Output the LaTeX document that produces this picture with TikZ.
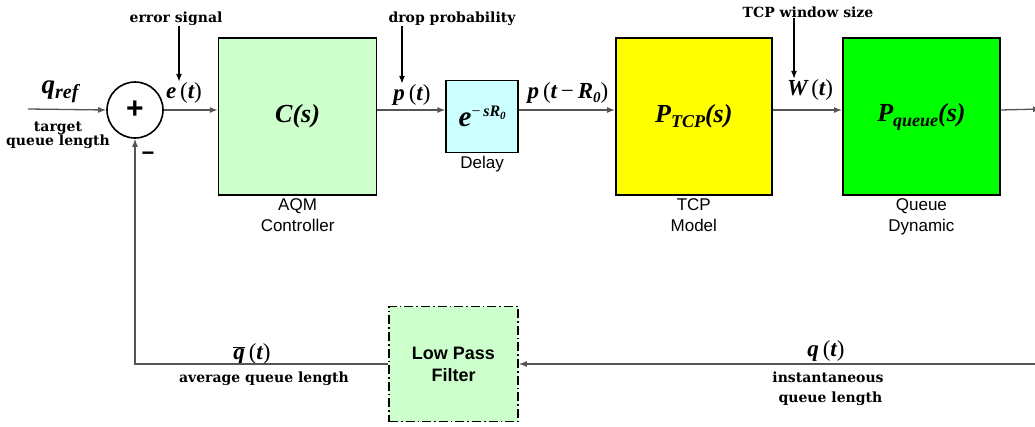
\documentclass[tikz,border=0pt]{standalone}
\usepackage{fontspec}
\setsansfont{Liberation Sans}
\newfontfamily\sigfont{Liberation Serif}
\newfontfamily\notefont{DejaVu Serif}
\usepackage{tikz}
\usetikzlibrary{arrows.meta, positioning, calc}
\definecolor{ctrlgreen}{HTML}{CCFFCC}
\definecolor{delaycyan}{HTML}{CCFFFF}
\definecolor{tcpyellow}{HTML}{FFFF00}
\definecolor{queuegreen}{HTML}{00FF00}
\definecolor{wire}{HTML}{555555}
% signal letters: bold italic serif
\newcommand{\bi}[1]{{\sigfont\bfseries\itshape #1}}
\newcommand{\rp}[1]{{\sigfont #1}}

\begin{document}
\begin{tikzpicture}[
		x=1pt, y=-1pt,
		node distance=55pt,
		block/.style={draw=black, line width=1.6pt, minimum width=157pt, minimum height=157pt, inner sep=0pt, font=\fontsize{26}{26}\selectfont},
		sumnode/.style={circle, draw=black, line width=1.6pt, minimum size=56pt, inner sep=0pt, font=\sffamily\bfseries\fontsize{30}{30}\selectfont},
		caption/.style={font=\sffamily\fontsize{17}{21}\selectfont, align=center, inner sep=1pt},
		note/.style={font=\notefont\bfseries\fontsize{14}{14}\selectfont, align=center, inner sep=1pt, anchor=base},
		sig/.style={font=\fontsize{23}{23}\selectfont, anchor=base, inner sep=0pt},
		wirearrow/.style={line width=1.3pt, draw=wire, -{Latex[length=8pt,width=6pt]}},
		pointer/.style={line width=1.3pt, draw=black, -{Latex[length=8pt,width=6pt]}}
		]
		\useasboundingbox (0,0) rectangle (1035,426);
		\clip (0,0) rectangle (1035,426);
		
		% Blocks
		\node[sumnode] (sum) at (135,110) {+};
		\node[block, fill=ctrlgreen, minimum width=158pt, right=54pt of sum, yshift=-6.5pt] (ctrl) {\bi{C(s)}};
		\node[block, fill=delaycyan, minimum width=72pt, minimum height=72pt, right=68pt of ctrl] (delay)
			{\fontsize{29}{29}\selectfont\bi{e}\raisebox{10pt}{\fontsize{16}{16}\selectfont\rp{−}\,\bi{sR}\raisebox{-3pt}{\fontsize{11}{11}\selectfont\bi{0}}}};
		\node[block, fill=tcpyellow, minimum width=156pt, right=96pt of delay] (tcp)
			{\bi{P}\raisebox{-5pt}{\fontsize{18}{18}\selectfont\bi{TCP}}\bi{(s)}};
		\node[block, fill=queuegreen, right=69.5pt of tcp] (queue)
			{\bi{P}\raisebox{-5pt}{\fontsize{18}{18}\selectfont\bi{queue}}\bi{(s)}};
		\node[block, fill=ctrlgreen, dash pattern=on 9pt off 3pt on 1.6pt off 3pt, minimum width=129pt, minimum height=115pt, font=\sffamily\bfseries\fontsize{18}{22}\selectfont, align=center] (lpf) at (453.5,364) {Low Pass\\Filter};
		
		% Captions
		\node[caption, below=2pt of ctrl] (ctrlcap) {AQM\\Controller};
		\node[caption, below=2pt of delay] (delaycap) {Delay};
		\node[caption, below=2pt of tcp] (tcpcap) {TCP\\Model};
		\node[caption, below=2pt of queue] (queuecap) {Queue\\Dynamic};
		\node[font=\sffamily\bfseries\fontsize{22}{22}\selectfont, inner sep=0pt] (minus) at (148,156) {−};
		
		% Signals
		\node[sig] (qref) at (60,93) {\fontsize{27}{27}\selectfont\bi{q}\raisebox{-5pt}{\fontsize{20}{20}\selectfont\bi{ref}}};
		\node[note, font=\notefont\bfseries\fontsize{14}{14}\selectfont] (qrefnote) at (58,145) {target\\queue length};
		\node[sig] (et) at (184,98) {\bi{e}\,\rp{(}\bi{t}\rp{)}};
		\node[sig] (pt) at (412,100) {\bi{p}\,\rp{(}\bi{t}\rp{)}};
		\node[sig] (ptr) at (568,98) {\bi{p}\,\rp{(}\bi{t}\,\rp{−}\,\bi{R}\raisebox{-4pt}{\fontsize{15}{15}\selectfont\bi{0}}\rp{)}};
		\node[sig] (wt) at (810,95) {\bi{W}\,\rp{(}\bi{t}\rp{)}};
		\node[sig] (qbar) at (252,359) {$\overline{\hbox{\bi{q}}}$\,\rp{(}\bi{t}\rp{)}};
		\node[sig] (qt) at (826,356) {\bi{q}\,\rp{(}\bi{t}\rp{)}};
		
		% Notes
		\node[note] (errnote) at (176,22) {error signal};
		\node[note] (dropnote) at (452,22) {drop probability};
		\node[note] (winnote) at (808,17) {TCP window size};
		\node[note] (avgnote) at (264,382) {average queue length};
		\node[note, font=\notefont\bfseries\fontsize{14}{20}\selectfont] (instnote) at (828,402) {instantaneous\\\ queue length};
		
		% Forward path
		\coordinate (outend) at (1041,109);
		\coordinate (qin) at (28,109);
		\draw[wirearrow] (qin) -- (sum.west);
		\draw[wirearrow] (sum.east) -- (sum.east -| ctrl.west);
		\draw[wirearrow] (ctrl.east |- sum) -- (delay.west |- sum);
		\draw[wirearrow] (delay.east |- sum) -- (tcp.west |- sum);
		\draw[wirearrow] (tcp.east |- sum) -- (queue.west |- sum);
		\draw[wirearrow] (queue.east |- sum) -- (outend);
		
		% Feedback path
		\coordinate (fbin) at (1035,364);
		\draw[wirearrow] (fbin) -- (lpf.east);
		\draw[wirearrow] (lpf.west) -| (sum.south);
		
		% Pointers
		\draw[pointer] ([xshift=3pt]errnote.south) -- ([xshift=3pt]errnote.south |- et.north);
		\draw[pointer] ([xshift=-50pt]dropnote.south) -- ([xshift=-50pt]dropnote.south |- pt.north);
		\draw[pointer] ([xshift=-14pt]winnote.south) -- ([xshift=-14pt]winnote.south |- wt.north);
		
	\end{tikzpicture}
\end{document}
